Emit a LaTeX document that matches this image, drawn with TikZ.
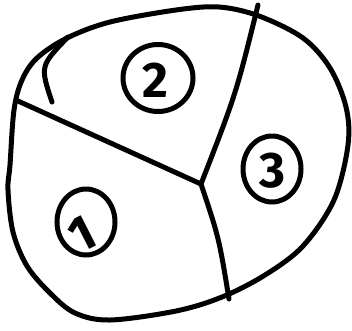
\documentclass[tikz,border=0pt]{standalone}
\usepackage{fontspec}
\setmainfont{Fira Sans}
\usetikzlibrary{shapes.geometric}
\tikzstyle{pen}=[line width=5pt,line cap=round,line join=round]
\tikzstyle{ring}=[ellipse,draw,line width=5pt,inner sep=0pt,
                  minimum width=58pt,minimum height=66pt]
\tikzstyle{digit}=[inner sep=0pt,font=\fontsize{50}{50}\selectfont\bfseries]

\begin{document}
\begin{tikzpicture}[x=1pt,y=-1pt]
  \useasboundingbox (0,0) rectangle (352,330);
  % the blob
  \draw[pen] plot[smooth cycle,tension=0.55] coordinates {
    (10,165) (14,110) (22,80) (37,58) (67,38) (110,22) (176,10) (219,7)
    (259,16) (303,38) (330,68) (346,107) (348,145) (334,200) (303,246)
    (265,275) (222,297) (176,311) (110,320) (75,313) (50,293) (27,266)
    (13,232) (8,190)};
  % three cuts meeting in the middle
  \coordinate (mid) at (201,184);
  \coordinate (cuttop) at (258,5);
  \coordinate (cutleft) at (18,101);
  \coordinate (cutbot) at (229,299);
  \draw[pen] (cuttop) .. controls (236,94) .. (mid);
  \draw[pen] (cutleft) -- (mid);
  \draw[pen] (mid) .. controls (219,238) .. (cutbot);
  % small stroke in the corner
  \coordinate (nickbot) at (52,102);
  \coordinate (nicktop) at (68,37);
  \draw[pen] (nickbot) .. controls (40,66) .. (nicktop);
  % numbered rings
  \node[ring,minimum width=70pt,minimum height=67pt] (ring2) at (158,78) {};
  \node[digit] (num2) at (155,80) {2};
  \node[ring] (ring3) at (272,169) {};
  \node[digit] (num3) at (272,171) {3};
  \node[ring] (ring1) at (86,222) {};
  \node[digit,rotate=27] (num1) at (82,234) {1};
\end{tikzpicture}
\end{document}
